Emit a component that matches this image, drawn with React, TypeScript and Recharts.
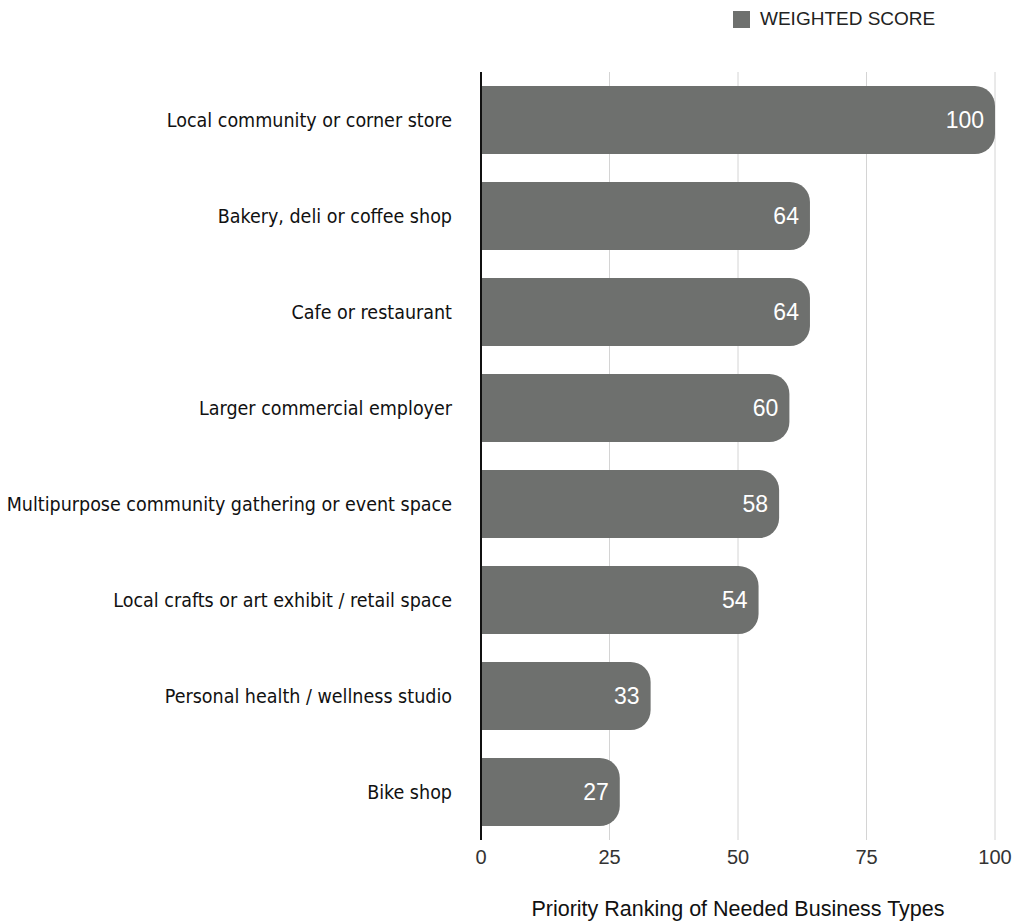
import React from "react";
import {
  BarChart,
  Bar,
  XAxis,
  YAxis,
  CartesianGrid,
  LabelList,
} from "recharts";

const categories = [
  "Local community or corner store",
  "Bakery, deli or coffee shop",
  "Cafe or restaurant",
  "Larger commercial employer",
  "Multipurpose community gathering or event space",
  "Local crafts or art exhibit / retail space",
  "Personal health / wellness studio",
  "Bike shop",
];
const scores = [100, 64, 64, 60, 58, 54, 33, 27];
const xTicks = [0, 25, 50, 75, 100];

const data = categories.map((name, i) => ({ name, score: scores[i] }));

const BAR_COLOR = "#6e706e";
const SANS = "Liberation Sans, Arial, sans-serif";

export default function App() {
  return (
    <div
      style={{
        position: "absolute",
        left: 0,
        top: 0,
        width: 1016,
        height: 922,
        background: "#fff",
      }}
    >
      {/* legend */}
      <div
        style={{
          position: "absolute",
          left: 733,
          top: 8,
          display: "flex",
          alignItems: "center",
          fontFamily: SANS,
          fontSize: 19,
          color: "#222",
          zIndex: 2,
        }}
      >
        <span
          style={{
            width: 17,
            height: 17,
            background: BAR_COLOR,
            marginRight: 10,
            display: "inline-block",
          }}
        />
        WEIGHTED SCORE
      </div>
      <BarChart
        width={1016}
        height={922}
        data={data}
        layout="vertical"
        margin={{ top: 72, right: 21, bottom: 52, left: 0 }}
        barCategoryGap="14.6%"
      >
        <CartesianGrid
          horizontal={false}
          stroke="#d4d4d4"
          verticalValues={[25, 50, 75, 100]}
        />
        <XAxis
          type="number"
          domain={[0, 100]}
          ticks={xTicks}
          axisLine={false}
          tickLine={false}
          height={30}
          tick={{ fill: "#333", fontSize: 20, fontFamily: SANS, dy: 2 }}
          label={{
            value: "Priority Ranking of Needed Business Types",
            position: "bottom",
            offset: 31,
            fill: "#111",
            fontSize: 21.5,
            fontFamily: SANS,
          }}
        />
        <YAxis
          type="category"
          dataKey="name"
          width={481}
          axisLine={{ stroke: "#111", strokeWidth: 2 }}
          tickLine={false}
          tickMargin={23}
          tick={{
            fill: "#111",
            fontSize: 19.5,
            fontFamily: "DejaVu Sans Condensed, Liberation Sans Narrow, sans-serif",
          }}
        />
        <Bar
          dataKey="score"
          fill={BAR_COLOR}
          radius={[0, 20, 20, 0]}
          isAnimationActive={false}
        >
          <LabelList
            dataKey="score"
            position="insideRight"
            offset={11}
            fill="#fff"
            fontSize={23}
            fontFamily={SANS}
          />
        </Bar>
      </BarChart>
    </div>
  );
}
